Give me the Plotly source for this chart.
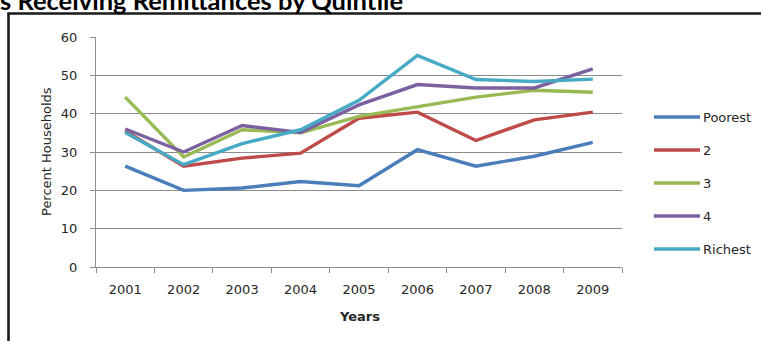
import plotly.graph_objects as go

# Share of households receiving remittances, by income quintile (%)
years = ["2001", "2002", "2003", "2004", "2005", "2006", "2007", "2008", "2009"]
series_names = ["Poorest", "2", "3", "4", "Richest"]
poorest = [26.3, 20.0, 20.6, 22.3, 21.2, 30.6, 26.3, 28.9, 32.5]
q2 = [35.5, 26.3, 28.4, 29.7, 38.8, 40.4, 33.0, 38.4, 40.4]
q3 = [44.3, 28.7, 35.8, 35.0, 39.3, 41.7, 44.3, 46.1, 45.6]
q4 = [36.0, 30.0, 36.9, 35.1, 42.3, 47.6, 46.7, 46.7, 51.7]
richest = [35.1, 26.7, 32.2, 35.8, 43.5, 55.2, 48.9, 48.4, 49.0]
y_ticks = [0, 10, 20, 30, 40, 50, 60]

values = [poorest, q2, q3, q4, richest]
colors = ["#4A7EBB", "#BE4B48", "#98B954", "#7D60A0", "#46AAC5"]

W, H = 761, 341
L, R, T, B = 96, 139, 37, 74
PW, PH = W - L - R, H - T - B


def px_x(p):
    return (p - L) / PW


def px_y(p):
    return (H - B - p) / PH


fig = go.Figure()
for name, vals, col in zip(series_names, values, colors):
    fig.add_trace(go.Scatter(
        x=years, y=vals, name=name, mode="lines",
        line=dict(color=col, width=3.4), showlegend=False,
    ))

text_font = dict(family="DejaVu Sans", size=13, color="#262626")

shapes = [
    # chart frame
    dict(type="rect", xref="paper", yref="paper",
         x0=px_x(8.5), x1=px_x(900), y0=px_y(13.5), y1=px_y(500),
         line=dict(color="#1a1a1a", width=2.6), fillcolor="rgba(0,0,0,0)",
         layer="above"),
]
annotations = [
    dict(text="<b>s Receiving Remittances by Quintile</b>", xref="paper", yref="paper",
         x=px_x(405), y=px_y(0.5), xanchor="right", yanchor="middle",
         showarrow=False, font=dict(family="Lato", size=25.5, color="#000000")),
    dict(text="Percent Households", xref="paper", yref="paper",
         x=px_x(46), y=0.5, xanchor="center", yanchor="middle", textangle=-90,
         showarrow=False, font=text_font),
    dict(text="<b>Years</b>", xref="paper", yref="paper",
         x=0.5, y=px_y(316), xanchor="center", yanchor="middle",
         showarrow=False, font=text_font),
]

# legend: line swatch followed by series name
for i, (name, col) in enumerate(zip(series_names, colors)):
    yp = 117 + 33 * i
    shapes.append(dict(type="line", xref="paper", yref="paper",
                       x0=px_x(654), x1=px_x(700), y0=px_y(yp), y1=px_y(yp),
                       line=dict(color=col, width=3.4)))
    annotations.append(dict(text=name, xref="paper", yref="paper",
                            x=px_x(701), y=px_y(yp), xanchor="left", yanchor="middle",
                            showarrow=False, font=text_font))

fig.update_layout(
    width=W, height=H,
    margin=dict(l=L, r=R, t=T, b=B),
    paper_bgcolor="white", plot_bgcolor="white",
    font=text_font,
    shapes=shapes, annotations=annotations,
    xaxis=dict(
        type="category", range=[-0.5, len(years) - 0.5],
        tickson="boundaries", ticks="outside", ticklen=5,
        tickcolor="#8c8c8c", showline=True, linecolor="#8c8c8c", linewidth=1,
        showgrid=False, tickfont=text_font, ticklabelstandoff=10,
    ),
    yaxis=dict(
        range=[0, 60], tickvals=y_ticks, ticks="outside", ticklen=5,
        tickcolor="#8c8c8c", showline=True, linecolor="#8c8c8c", linewidth=1,
        showgrid=True, gridcolor="#8c8c8c", gridwidth=1, zeroline=False,
        tickfont=text_font, ticklabelstandoff=10,
    ),
)

fig.write_html("out.html")
